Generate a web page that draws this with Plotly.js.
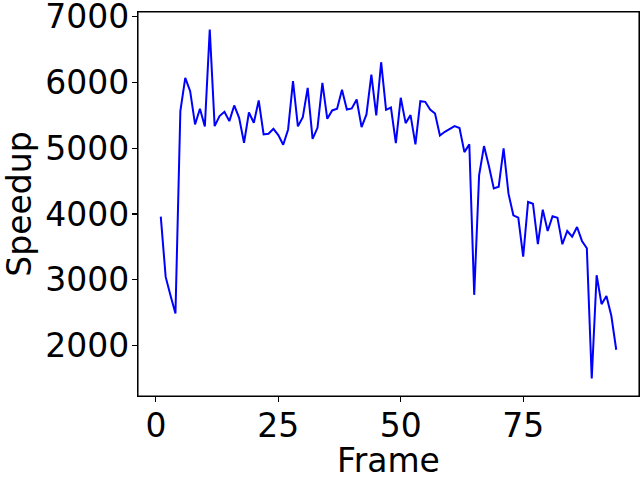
<!DOCTYPE html>
<html>
<head>
<meta charset="utf-8">
<script src="https://cdn.plot.ly/plotly-3.0.1.min.js"></script>
<style>html,body{margin:0;padding:0;background:#fff;}#chart{width:640px;height:480px;}</style>
</head>
<body>
<div id="chart"></div>
<script>
const frames = [1,2,3,4,5,6,7,8,9,10,11,12,13,14,15,16,17,18,19,20,
  21,22,23,24,25,26,27,28,29,30,31,32,33,34,35,36,37,38,39,40,
  41,42,43,44,45,46,47,48,49,50,51,52,53,54,55,56,57,58,59,60,
  61,62,63,64,65,66,67,68,69,70,71,72,73,74,75,76,77,78,79,80,
  81,82,83,84,85,86,87,88,89,90,91,92,93,94];
const speedup = [3960,3045,2760,2490,5560,6065,5864,5359,5596,5329,
  6800,5333,5485,5550,5409,5647,5460,5080,5540,5384,
  5722,5207,5217,5293,5197,5050,5283,6015,5329,5470,
  5914,5141,5308,5990,5444,5571,5596,5884,5586,5601,
  5737,5318,5510,6116,5495,6303,5581,5616,5076,5763,
  5379,5500,5056,5712,5702,5586,5525,5192,5247,5293,
  5333,5305,4939,5056,2773,4586,5030,4727,4389,4414,
  4995,4308,3980,3944,3353,4182,4156,3541,4066,3742,
  3965,3944,3541,3742,3656,3803,3591,3480,1503,3071,
  2631,2757,2455,1940];
const xTicks = [0,25,50,75];
const yTicks = [2000,3000,4000,5000,6000,7000];

const font = {family: 'DejaVu Sans', size: 33, color: '#000'};
const trace = {x: frames, y: speedup, type: 'scatter', mode: 'lines',
  line: {color: '#0000ff', width: 2}, hoverinfo: 'skip'};
const layout = {
  width: 640, height: 480,
  margin: {l: 138, r: 1, t: 12, b: 84, pad: 0},
  paper_bgcolor: '#fff', plot_bgcolor: '#fff',
  showlegend: false,
  font: font,
  xaxis: {
    range: [-3.65, 98.65], tickvals: xTicks, ticktext: xTicks.map(String),
    showgrid: false, zeroline: false, showline: true, mirror: true,
    linecolor: '#000', linewidth: 1.1, ticks: 'outside', ticklen: 5, tickwidth: 1.1, tickcolor: '#000',
    tickfont: font, ticklabelstandoff: -5, ticklabeloverflow: 'allow',
    title: {text: 'Frame', font: font, standoff: 4}, automargin: false
  },
  yaxis: {
    range: [1238, 7065], tickvals: yTicks, ticktext: yTicks.map(String),
    showgrid: false, zeroline: false, showline: true, mirror: true,
    linecolor: '#000', linewidth: 1.1, ticks: 'outside', ticklen: 5, tickwidth: 1.1, tickcolor: '#000',
    tickfont: font, ticklabelstandoff: -4, ticklabeloverflow: 'allow',
    title: {text: 'Speedup', font: font, standoff: 12}, automargin: false
  },
  shapes: [{type: 'rect', xref: 'paper', yref: 'paper', x0: 0, x1: 1, y0: 0, y1: 1,
    line: {color: '#000', width: 1.1}, fillcolor: 'rgba(0,0,0,0)', layer: 'above'}]
};
Plotly.newPlot('chart', [trace], layout, {staticPlot: true, displayModeBar: false});
</script>
</body>
</html>
